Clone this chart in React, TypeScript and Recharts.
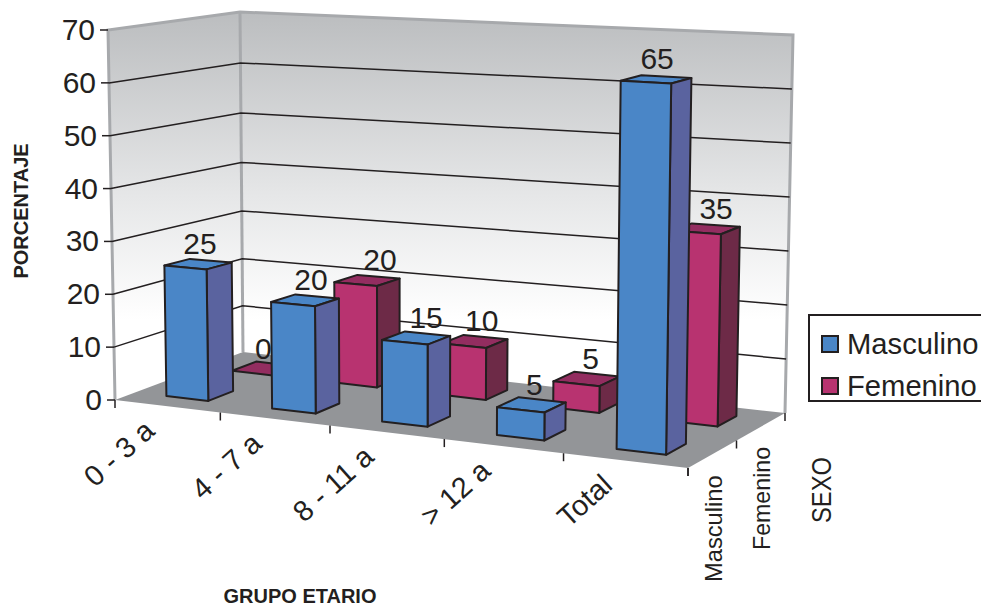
import React from 'react';
import { BarChart, Bar, XAxis, YAxis, CartesianGrid, LabelList, Legend } from 'recharts';

const categories = ['0 - 3 a', '4 - 7 a', '8 - 11 a', '> 12 a', 'Total'];
const masculino = [25, 20, 15, 5, 65];
const femenino = [0, 20, 10, 5, 35];
const yTicks = [0, 10, 20, 30, 40, 50, 60, 70];
const seriesNames = ['Masculino', 'Femenino'];

const data = categories.map((name, i) => ({
  name,
  Masculino: masculino[i],
  Femenino: femenino[i],
}));

const INK = '#231f20';
const WIDTH = 981;
const HEIGHT = 609;
const PLOT = { left: 115, right: 688, top: 30, bottom: 400 };

// screen corners of the 3D box: f/b = front/back, l/r = left/right
const BOX = {
  flBottom: [115, 400],
  flTop: [108, 30],
  blBottom: [243, 352],
  blTop: [240, 12],
  brBottom: [785, 413],
  brTop: [793, 35],
  frBottom: [688, 468],
  frTop: [694, 61],
};

const FACES: Record<string, { front: string; side: string; top: string; depth: [number, number]; labelDx: number[] }> = {
  Masculino: { front: '#4a86c7', side: '#5a639f', top: '#4a86c7', depth: [0.16, 0.36], labelDx: [2, 6, 10, 3, 1] },
  Femenino: { front: '#b83370', side: '#6d2a47', top: '#932d60', depth: [0.68, 0.87], labelDx: [-1, 13, 7, 4, 10] },
};

const mix = (a: number[], b: number[], k: number) => [a[0] + (b[0] - a[0]) * k, a[1] + (b[1] - a[1]) * k];

// maps chart pixels (plus a 0..1 depth) onto the box, wider towards the right
const project = (px: number, depth: number, py: number) => {
  const raw = (px - PLOT.left) / (PLOT.right - PLOT.left);
  const s = raw / (1.11 - 0.11 * raw);
  const flat = (PLOT.bottom - py) / (PLOT.bottom - PLOT.top);
  // the far left corner of the wall compresses slightly towards the floor
  const h = flat - 0.056 * flat * (1 - flat) * depth * (1 - s);
  const frontBottom = mix(BOX.flBottom, BOX.frBottom, s);
  const frontTop = mix(BOX.flTop, BOX.frTop, s);
  const backBottom = mix(BOX.blBottom, BOX.brBottom, s);
  const backTop = mix(BOX.blTop, BOX.brTop, s);
  return mix(mix(frontBottom, backBottom, depth), mix(frontTop, backTop, depth), h);
};

const pts = (list: number[][]) => list.map((p) => `${p[0].toFixed(1)},${p[1].toFixed(1)}`).join(' ');

const Box3D = (props: any) => {
  const { x, y, width, height, faces } = props;
  const [d0, d1] = faces.depth;
  const bottom = y + height;
  const right = x + width;
  const line = { stroke: INK, strokeWidth: 2, strokeLinejoin: 'round' as const };
  return (
    <g>
      <polygon
        points={pts([project(x, d0, y), project(right, d0, y), project(right, d1, y), project(x, d1, y)])}
        fill={faces.top}
        {...line}
      />
      {height > 0 && (
        <>
          <polygon
            points={pts([project(right, d0, y), project(right, d1, y), project(right, d1, bottom), project(right, d0, bottom)])}
            fill={faces.side}
            {...line}
          />
          <polygon
            points={pts([project(x, d0, y), project(right, d0, y), project(right, d0, bottom), project(x, d0, bottom)])}
            fill={faces.front}
            {...line}
          />
        </>
      )}
    </g>
  );
};

const valueLabel = (series: string) => (props: any) => {
  const box = props.viewBox ?? props;
  const { depth, labelDx } = FACES[series];
  const p = project(box.x + box.width / 2, (depth[0] + depth[1]) / 2, box.y);
  return (
    <text x={p[0] + (labelDx[props.index] ?? 0)} y={p[1] - 10} textAnchor="middle" fontSize={30} fill={INK}>
      {props.value}
    </text>
  );
};

const GridLine = (props: any) => {
  const { y1 } = props;
  if (y1 <= PLOT.top || y1 >= PLOT.bottom) return <g key={props.key} />;
  return (
    <polyline
      key={props.key}
      points={pts([project(PLOT.left, 0, y1), project(PLOT.left, 1, y1), project(PLOT.right, 1, y1)])}
      fill="none"
      stroke={INK}
      strokeWidth={1.5}
    />
  );
};

const ValueTick = (props: any) => {
  const p = project(PLOT.left, 0, props.y);
  return (
    <g>
      <line x1={p[0] - 8} y1={p[1]} x2={p[0]} y2={p[1]} stroke={INK} strokeWidth={1.5} />
      <text x={p[0] - 13} y={p[1] + 10} textAnchor="end" fontSize={30} fill={INK}>
        {props.payload.value}
      </text>
    </g>
  );
};

const CategoryTick = (props: any) => {
  const p = project(props.x, 0, PLOT.bottom);
  const ax = p[0] - 11;
  const ay = p[1] + 27;
  return (
    <text x={ax} y={ay} transform={`rotate(-42 ${ax} ${ay})`} textAnchor="end" fontSize={29} fill={INK}>
      {props.payload.value}
    </text>
  );
};

// walls, floor and the small floor ticks, on their own svg behind the chart
const Room = () => {
  const step = (PLOT.right - PLOT.left) / categories.length;
  const edge = { stroke: '#a7a9ac', strokeWidth: 3, fill: 'none' };
  return (
    <svg width={WIDTH} height={HEIGHT} style={{ position: 'absolute', left: 0, top: 0 }}>
      <defs>
        <linearGradient id="wall" gradientUnits="userSpaceOnUse" x1="0" y1="12" x2="0" y2="320">
          <stop offset="0" stopColor="#bbbdbf" />
          <stop offset="0.6" stopColor="#e6e7e8" />
          <stop offset="1" stopColor="#ffffff" />
        </linearGradient>
      </defs>
      <polygon points={pts([BOX.flBottom, BOX.flTop, BOX.blTop, BOX.blBottom])} fill="url(#wall)" />
      <polygon points={pts([BOX.blBottom, BOX.blTop, BOX.brTop, BOX.brBottom])} fill="url(#wall)" />
      <polygon points={pts([BOX.flBottom, BOX.blBottom, BOX.brBottom, BOX.frBottom])} fill="#939598" />
      <polyline points={pts([BOX.flBottom, BOX.flTop, BOX.blTop, BOX.brTop, BOX.brBottom])} {...edge} />
      <polyline points={pts([BOX.blTop, BOX.blBottom])} {...edge} />
      {categories.concat('').map((_, i) => {
        const p = project(PLOT.left + step * i, 0, PLOT.bottom);
        return <line key={i} x1={p[0]} y1={p[1]} x2={p[0]} y2={p[1] + 8} stroke={INK} strokeWidth={1.5} />;
      })}
      {seriesNames.concat('').map((_, i) => {
        const p = project(PLOT.right, i / seriesNames.length, PLOT.bottom);
        return <line key={i} x1={p[0]} y1={p[1]} x2={p[0]} y2={p[1] + 8} stroke={INK} strokeWidth={1.5} />;
      })}
    </svg>
  );
};

const AxisTitles = () => (
  <g fill={INK}>
    <text x={28} y={211} transform="rotate(-90 28 211)" textAnchor="middle" fontSize={20} fontWeight="bold">
      PORCENTAJE
    </text>
    <text x={300} y={603} textAnchor="middle" fontSize={20} fontWeight="bold">
      GRUPO ETARIO
    </text>
    <text x={722} y={582} transform="rotate(-90 722 582)" fontSize={23.7}>
      {seriesNames[0]}
    </text>
    <text x={770} y={550} transform="rotate(-90 770 550)" fontSize={23.2}>
      {seriesNames[1]}
    </text>
    <text x={831} y={523} transform="rotate(-90 831 523)" fontSize={27} textLength={66} lengthAdjust="spacingAndGlyphs">
      SEXO
    </text>
  </g>
);

const LegendBox = ({ payload }: any) => (
  <div
    style={{
      boxSizing: 'border-box',
      width: 190,
      height: 88,
      border: `2px solid ${INK}`,
      paddingTop: 7,
      fontSize: 29.2,
      color: INK,
      lineHeight: '42px',
    }}
  >
    {[...(payload ?? [])].reverse().map((item: any) => (
      <div key={item.value} style={{ display: 'flex', alignItems: 'center' }}>
        <span
          style={{
            boxSizing: 'border-box',
            width: 18,
            height: 18,
            marginLeft: 11,
            marginRight: 8,
            background: item.color,
            border: `2px solid ${INK}`,
          }}
        />
        {item.value}
      </div>
    ))}
  </div>
);

const App = () => (
  <div
    style={{
      position: 'absolute',
      left: 0,
      top: 0,
      width: WIDTH,
      height: HEIGHT,
      overflow: 'hidden',
      fontFamily: '"Liberation Sans", Arial, sans-serif',
    }}
  >
    <Room />
    <BarChart
      width={WIDTH}
      height={HEIGHT}
      data={data}
      barCategoryGap="30%"
      margin={{ top: PLOT.top, left: 55, right: WIDTH - PLOT.right, bottom: HEIGHT - PLOT.bottom - 100 }}
      style={{ fontFamily: '"Liberation Sans", Arial, sans-serif' }}
    >
      <CartesianGrid xAxisId="front" vertical={false} horizontal={GridLine} />
      <XAxis xAxisId="front" dataKey="name" height={100} interval={0} axisLine={false} tickLine={false} tick={CategoryTick} />
      <XAxis xAxisId="back" dataKey="name" height={0} hide />
      <YAxis width={60} domain={[0, 70]} ticks={yTicks} interval={0} axisLine={false} tickLine={false} tick={ValueTick} />
      <Legend
        layout="horizontal"
        verticalAlign="middle"
        align="center"
        content={LegendBox}
        wrapperStyle={{ left: 808, top: 314, width: 190, height: 88, margin: 0 }}
      />
      <Bar
        xAxisId="back"
        dataKey="Femenino"
        name={seriesNames[1]}
        fill={FACES.Femenino.front}
        isAnimationActive={false}
        shape={(p: any) => <Box3D {...p} faces={FACES.Femenino} />}
      >
        <LabelList dataKey="Femenino" content={valueLabel('Femenino')} />
      </Bar>
      <Bar
        xAxisId="front"
        dataKey="Masculino"
        name={seriesNames[0]}
        fill={FACES.Masculino.front}
        isAnimationActive={false}
        shape={(p: any) => <Box3D {...p} faces={FACES.Masculino} />}
      >
        <LabelList dataKey="Masculino" content={valueLabel('Masculino')} />
      </Bar>
      <AxisTitles />
    </BarChart>
  </div>
);

export default App;
